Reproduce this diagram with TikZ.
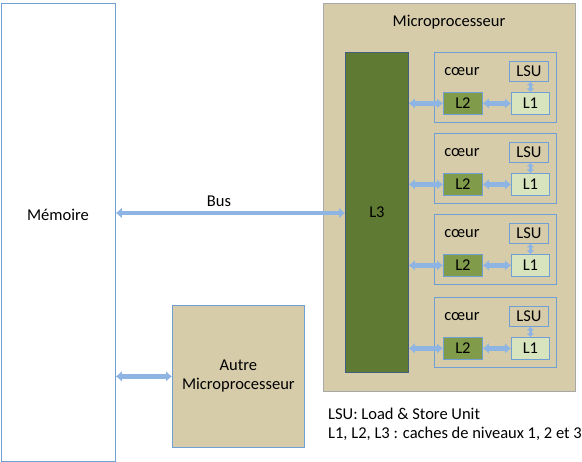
\documentclass[tikz,border=0pt]{standalone}
\usepackage{fontspec}
\setmainfont{Carlito}
\usetikzlibrary{arrows.meta,positioning}

\definecolor{tanfill}{HTML}{D6CCAA}
\definecolor{boxblue}{HTML}{6F9FD3}
\definecolor{microgray}{HTML}{A8A8A8}
\definecolor{greenthree}{HTML}{5F7A32}
\definecolor{greentwo}{HTML}{809B4A}
\definecolor{greenone}{HTML}{D8E4BE}
\definecolor{busblue}{HTML}{8DB4E2}

\begin{document}
\begin{tikzpicture}[
    x = 1pt, y = -1pt, % pixel grid, y downwards
    font = \fontsize{16.5}{19}\selectfont,
    every node/.style = {inner sep = 0pt, text = black},
    blk/.style = {draw = boxblue, thick, anchor = north west},
    bus/.style = {busblue, line width = 4.5pt,
        {Latex[length=6pt,width=11pt]}-{Latex[length=6pt,width=11pt]}},
    busv/.style = {busblue, line width = 3.5pt,
        {Latex[length=3.5pt,width=8pt]}-{Latex[length=3.5pt,width=8pt]}}
    ]

    \useasboundingbox (0,0) rectangle (582,462);

    \node[blk, fill = white, minimum width = 114, minimum height = 458] (mem) at (1,3) {};
    \node (memtxt) at (58,215) {Mémoire};

    \node[blk, draw = microgray, fill = tanfill, minimum width = 252, minimum height = 388] (micro) at (323,3) {};
    \node (microtxt) at (449,22) {Microprocesseur};

    \node[blk, draw = boxblue!60!black, fill = greenthree, minimum width = 63, minimum height = 320] (L3) at (345,52) {L3};

    \node[blk, fill = tanfill, minimum width = 132, minimum height = 142, align = center] (autre) at (172,305) {Autre\\Microprocesseur};

    \draw[bus] (mem.east |- 0,213) -- node[above = 4pt, pos = 0.45] (bustxt) {Bus} (L3.west |- 0,213);
    \draw[bus] (mem.east |- autre.west) -- (autre.west);

    \foreach \i/\y in {1/52,2/133,3/214,4/297} {
        \node[blk, minimum width = 122, minimum height = 70] (core\i) at (434,\y) {};
        \node (coeur\i) at (462,\y+20) {cœur};
        \node[blk, fill = tanfill, minimum width = 39, minimum height = 20] (lsu\i) at (509,\y+9) {LSU};
        \node[blk, fill = greenone, minimum width = 38, minimum height = 22] (lone\i) at (511,\y+40) {L1};
        \node[blk, fill = greentwo, minimum width = 39, minimum height = 22] (ltwo\i) at (443,\y+40) {L2};
        \draw[bus] (L3.east |- ltwo\i.west) -- (ltwo\i.west);
        \draw[bus] (ltwo\i.east) -- (lone\i.west |- ltwo\i.east);
        \draw[busv] (lsu\i.south -| lone\i.north) -- (lone\i.north);
    }

    \node[anchor = west] (legend1) at (328,414) {LSU: Load \& Store Unit};
    \node[anchor = west] (legend2) at (328,434) {L1, L2, L3 : caches de niveaux 1, 2 et 3};
\end{tikzpicture}
\end{document}
